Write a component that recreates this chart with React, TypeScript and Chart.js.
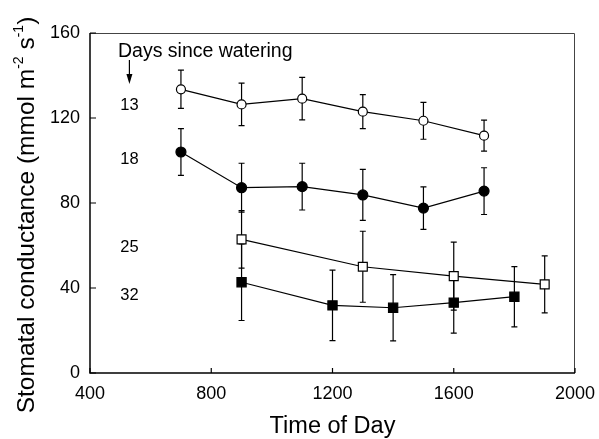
import React, { useEffect, useRef } from "react";
import { Chart, registerables } from "chart.js";

Chart.register(...registerables);

const xTicks = [400, 800, 1200, 1600, 2000];
const yTicks = [0, 40, 80, 120, 160];

const days13X = [700, 900, 1100, 1300, 1500, 1700];
const days13Y = [133.5, 126.4, 129.1, 123.0, 118.7, 111.7];
const days13Err = [9, 10, 10, 8, 8.7, 7.3];

const days18X = [700, 900, 1100, 1300, 1500, 1700];
const days18Y = [104.0, 87.2, 87.7, 83.8, 77.6, 85.6];
const days18Err = [11, 11.5, 11, 12, 10, 11];

const days25X = [900, 1300, 1600, 1900];
const days25Y = [62.9, 50.0, 45.6, 41.7];
const days25Err = [13.5, 16.7, 16, 13.4];

const days32X = [900, 1200, 1400, 1600, 1800];
const days32Y = [42.7, 31.8, 30.7, 33.1, 35.9];
const days32Err = [18, 16.6, 15.6, 14.3, 14.2];

const seriesLabels = ["13", "18", "25", "32"];
const seriesLabelY = [126, 100.5, 59, 36.5];
const annotationTitle = "Days since watering";

const FONT = "'Liberation Sans', Arial, Helvetica, sans-serif";

function pts(xs: number[], ys: number[]) {
  return xs.map((x, i) => ({ x, y: ys[i] }));
}

export default function App() {
  const ref = useRef<HTMLCanvasElement | null>(null);

  useEffect(() => {
    const canvas = ref.current;
    if (!canvas) return;
    const errs = [days13Err, days18Err, days25Err, days32Err];

    const errorBars = {
      id: "errorBars",
      beforeDatasetsDraw(chart: any) {
        const ctx = chart.ctx;
        const xs = chart.scales.x;
        const ys = chart.scales.y;
        ctx.save();
        ctx.strokeStyle = "#000";
        ctx.lineWidth = 1.2;
        chart.data.datasets.forEach((ds: any, di: number) => {
          ds.data.forEach((p: any, i: number) => {
            const e = errs[di][i];
            const px = xs.getPixelForValue(p.x);
            const top = ys.getPixelForValue(p.y + e);
            const bot = ys.getPixelForValue(p.y - e);
            ctx.beginPath();
            ctx.moveTo(px, top);
            ctx.lineTo(px, bot);
            ctx.moveTo(px - 3, top);
            ctx.lineTo(px + 3, top);
            ctx.moveTo(px - 3, bot);
            ctx.lineTo(px + 3, bot);
            ctx.stroke();
          });
        });
        ctx.restore();
      },
    };

    const frame = {
      id: "frame",
      afterDraw(chart: any) {
        const ctx = chart.ctx;
        const a = chart.chartArea;
        const xs = chart.scales.x;
        const ys = chart.scales.y;
        ctx.save();
        // top and right border
        ctx.strokeStyle = "#444";
        ctx.lineWidth = 1;
        ctx.beginPath();
        ctx.moveTo(a.left, a.top + 0.5);
        ctx.lineTo(a.right - 0.5, a.top + 0.5);
        ctx.lineTo(a.right - 0.5, a.bottom);
        ctx.stroke();
        // left and bottom axes
        ctx.strokeStyle = "#000";
        ctx.lineWidth = 1.5;
        ctx.beginPath();
        ctx.moveTo(a.left, a.top);
        ctx.lineTo(a.left, a.bottom);
        ctx.lineTo(a.right, a.bottom);
        ctx.stroke();
        // inward ticks
        ctx.lineWidth = 1.2;
        ctx.beginPath();
        yTicks.forEach((v) => {
          const py = ys.getPixelForValue(v);
          ctx.moveTo(a.left, py);
          ctx.lineTo(a.left + 6, py);
        });
        xTicks.forEach((v) => {
          const px = xs.getPixelForValue(v);
          ctx.moveTo(px, a.bottom);
          ctx.lineTo(px, a.bottom - 5);
        });
        ctx.stroke();

        // annotation text
        ctx.fillStyle = "#000";
        ctx.textAlign = "left";
        ctx.textBaseline = "alphabetic";
        ctx.font = `19.5px ${FONT}`;
        ctx.fillText(annotationTitle, 118, 57);
        // arrow
        const ax = xs.getPixelForValue(530);
        ctx.lineWidth = 1.2;
        ctx.beginPath();
        ctx.moveTo(ax, 60);
        ctx.lineTo(ax, 78);
        ctx.stroke();
        ctx.beginPath();
        ctx.moveTo(ax - 3, 74);
        ctx.lineTo(ax + 3, 74);
        ctx.lineTo(ax, 84);
        ctx.closePath();
        ctx.fill();

        ctx.font = `16.5px ${FONT}`;
        ctx.textBaseline = "middle";
        const lx = xs.getPixelForValue(500);
        seriesLabels.forEach((t, i) => {
          ctx.fillText(t, lx, ys.getPixelForValue(seriesLabelY[i]));
        });

        // y title with superscripts
        ctx.translate(34, 215);
        ctx.rotate(-Math.PI / 2);
        const main = `24.5px ${FONT}`;
        const sup = `14px ${FONT}`;
        const parts: [string, string, number][] = [
          ["Stomatal conductance (mmol m", main, 0],
          ["-2", sup, -11],
          [" s", main, 0],
          ["-1", sup, -11],
          [")", main, 0],
        ];
        let total = 0;
        parts.forEach(([t, f]) => {
          ctx.font = f;
          total += ctx.measureText(t).width;
        });
        let cx = -total / 2;
        ctx.textBaseline = "alphabetic";
        parts.forEach(([t, f, dy]) => {
          ctx.font = f;
          ctx.fillText(t, cx, dy);
          cx += ctx.measureText(t).width;
        });
        ctx.restore();
      },
    };

    const mk = (label: string, xs: number[], ys: number[], style: string, fill: string, r: number) => ({
      label,
      data: pts(xs, ys),
      showLine: true,
      borderColor: "#000",
      borderWidth: 1.2,
      pointStyle: style,
      pointRadius: r,
      pointBackgroundColor: fill,
      pointBorderColor: "#000",
      pointBorderWidth: 1.2,
      fill: false,
      tension: 0,
    });

    const chart = new Chart(canvas, {
      type: "scatter",
      data: {
        datasets: [
          mk("13", days13X, days13Y, "circle", "#fff", 4.5),
          mk("18", days18X, days18Y, "circle", "#000", 5),
          mk("25", days25X, days25Y, "rect", "#fff", 6.3),
          mk("32", days32X, days32Y, "rect", "#000", 6.5),
        ],
      },
      options: {
        responsive: false,
        animation: false,
        layout: { padding: { top: 33, right: 24, bottom: 0, left: 0 } },
        plugins: {
          legend: { display: false },
          tooltip: { enabled: false },
        },
        scales: {
          x: {
            type: "linear",
            min: 400,
            max: 2000,
            afterBuildTicks: (s: any) => {
              s.ticks = xTicks.map((v) => ({ value: v }));
            },
            afterFit: (s: any) => {
              s.height = 66;
              s.paddingLeft = 0;
              s.paddingRight = 0;
            },
            grid: { display: false, drawTicks: false },
            border: { display: false },
            ticks: {
              padding: 10,
              color: "#000",
              font: { family: FONT, size: 18 },
              maxRotation: 0,
              callback: (v: any) => String(v),
            },
            title: {
              display: true,
              text: "Time of Day",
              color: "#000",
              font: { family: FONT, size: 23.5, lineHeight: 1 },
              padding: { top: 0, bottom: 1 },
            },
          },
          y: {
            type: "linear",
            min: 0,
            max: 160,
            afterBuildTicks: (s: any) => {
              s.ticks = yTicks.map((v) => ({ value: v }));
            },
            afterFit: (s: any) => {
              s.width = 90;
              s.paddingTop = 0;
              s.paddingBottom = 0;
            },
            grid: { display: false, drawTicks: false },
            border: { display: false },
            ticks: {
              padding: 10,
              color: "#000",
              font: { family: FONT, size: 18 },
              callback: (v: any) => String(v),
            },
          },
        },
      },
      plugins: [errorBars, frame],
    });
    return () => chart.destroy();
  }, []);

  return (
    <div style={{ position: "absolute", left: 0, top: 0, width: 599, height: 439, background: "#fff" }}>
      <canvas ref={ref} width={599} height={439} />
    </div>
  );
}
